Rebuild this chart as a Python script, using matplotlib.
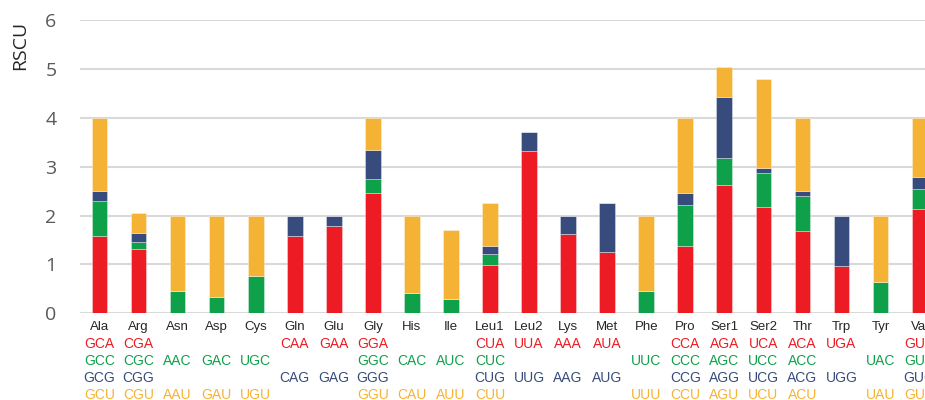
import numpy as np
import matplotlib
matplotlib.use("Agg")
import matplotlib.pyplot as plt

plt.rcParams['font.family'] = ['Liberation Sans', 'DejaVu Sans']

# amino acids (x categories)
acides = ['Ala', 'Arg', 'Asn', 'Asp', 'Cys', 'Gln', 'Glu', 'Gly', 'His', 'Ile', 'Leu1',
          'Leu2', 'Lys', 'Met', 'Phe', 'Pro', 'Ser1', 'Ser2', 'Thr', 'Trp', 'Tyr', 'Val']

# codons, one row per third base
codons_A = ['GCA', 'CGA', '', '', '', 'CAA', 'GAA', 'GGA', '', '', 'CUA',
            'UUA', 'AAA', 'AUA', '', 'CCA', 'AGA', 'UCA', 'ACA', 'UGA', '', 'GUA']
codons_C = ['GCC', 'CGC', 'AAC', 'GAC', 'UGC', '', '', 'GGC', 'CAC', 'AUC', 'CUC',
            '', '', '', 'UUC', 'CCC', 'AGC', 'UCC', 'ACC', '', 'UAC', 'GUC']
codons_G = ['GCG', 'CGG', '', '', '', 'CAG', 'GAG', 'GGG', '', '', 'CUG',
            'UUG', 'AAG', 'AUG', '', 'CCG', 'AGG', 'UCG', 'ACG', 'UGG', '', 'GUG']
codons_U = ['GCU', 'CGU', 'AAU', 'GAU', 'UGU', '', '', 'GGU', 'CAU', 'AUU', 'CUU',
            '', '', '', 'UUU', 'CCU', 'AGU', 'UCU', 'ACU', '', 'UAU', 'GUU']

# RSCU values (segment heights)
rscu_A = [1.58, 1.31, 0, 0, 0, 1.58, 1.78, 2.46, 0, 0, 0.98,
          3.31, 1.62, 1.26, 0, 1.37, 2.63, 2.18, 1.69, 0.97, 0, 2.14]
rscu_C = [0.72, 0.15, 0.45, 0.33, 0.77, 0, 0, 0.28, 0.41, 0.29, 0.24,
          0, 0, 0, 0.45, 0.85, 0.55, 0.68, 0.70, 0, 0.65, 0.40]
rscu_G = [0.20, 0.19, 0, 0, 0, 0.42, 0.22, 0.60, 0, 0, 0.16,
          0.40, 0.38, 1.00, 0, 0.24, 1.24, 0.12, 0.11, 1.03, 0, 0.24]
rscu_U = [1.50, 0.41, 1.55, 1.67, 1.23, 0, 0, 0.66, 1.59, 1.41, 0.88,
          0, 0, 0, 1.55, 1.54, 0.61, 1.81, 1.50, 0, 1.35, 1.22]

rouge = '#ED1C24'
vert = '#0FA14A'
bleu = '#374C7C'
jaune = '#F5B335'

fig = plt.figure(figsize=(9.25, 4), dpi=100)
ax = fig.add_axes([80 / 925, 1 - 313.3 / 400, 1 - 80 / 925, 293.3 / 400])

x = np.arange(len(acides))
largeur = 0.4
bas = np.zeros(len(acides))
for valeurs, couleur in [(rscu_A, rouge), (rscu_C, vert), (rscu_G, bleu), (rscu_U, jaune)]:
    v = np.array(valeurs)
    ax.bar(x, v, largeur, bottom=bas, color=couleur, edgecolor=(1, 1, 1, 0.4),
           linewidth=0.6, zorder=3)
    bas += v

ax.set_ylim(0, 6)
ax.set_xlim(-0.5, 21.14)
ax.set_yticks(range(7))
ax.yaxis.grid(True, color='#d9d9d9', linewidth=1.5, zorder=0)
for s in ax.spines.values():
    s.set_visible(False)
ax.tick_params(axis='y', length=0, pad=17, labelsize=14, labelcolor='#595959')
ax.set_xticks([])
for lab in ax.get_yticklabels():
    lab.set_family(['Open Sans', 'DejaVu Sans'])

fig.text(20 / 925, 1 - 45 / 400, 'RSCU', rotation=90, ha='center', va='center',
         fontsize=14, color='#262626', family=['Open Sans', 'DejaVu Sans'])

# labels under the bars
trans = ax.get_xaxis_transform()
h = 293.3
lignes = [(codons_A, rouge), (codons_C, vert), (codons_G, bleu), (codons_U, jaune)]
for i, nom in enumerate(acides):
    ax.text(i, -(327 - 313.3) / h, nom, transform=trans, ha='center', va='center',
            fontsize=9.5, color='#262626', clip_on=False)
    for k, (liste, couleur) in enumerate(lignes):
        if liste[i]:
            ax.text(i, -(344 + 17 * k - 313.3) / h, liste[i], transform=trans,
                    ha='center', va='center', fontsize=10, color=couleur, clip_on=False)

fig.savefig('out.png', dpi=100)
